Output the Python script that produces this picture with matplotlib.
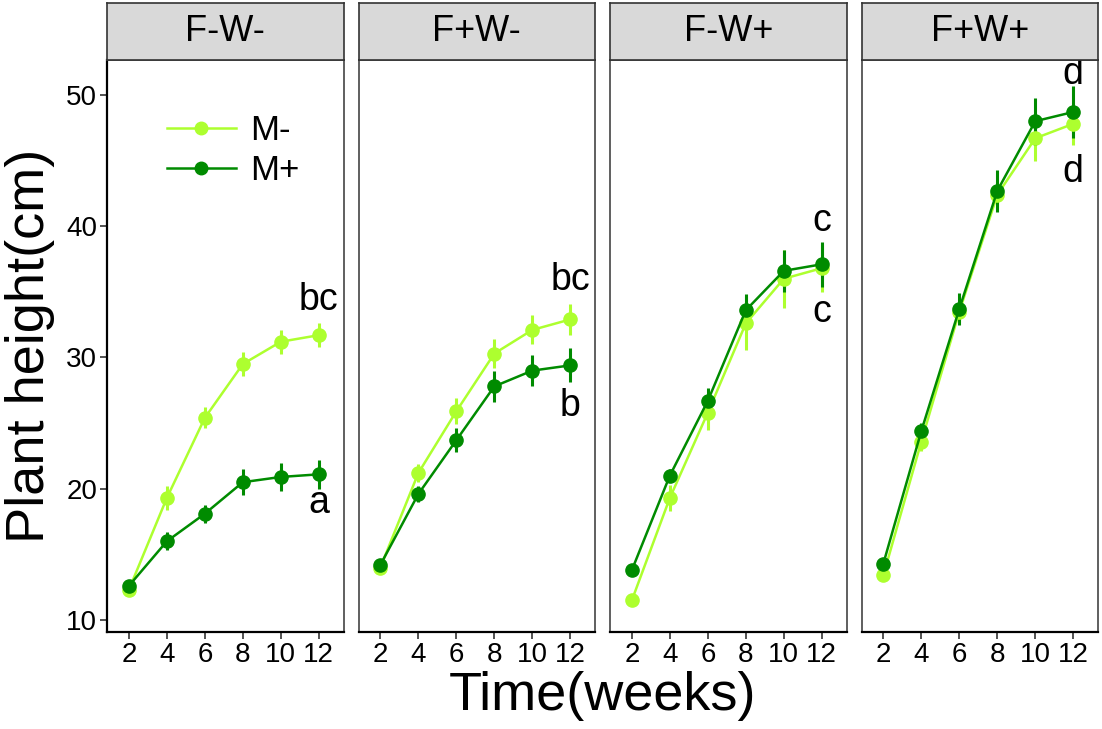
import numpy as np
import matplotlib.pyplot as plt
from matplotlib.lines import Line2D

plt.rcParams['font.family'] = ['Liberation Sans', 'DejaVu Sans']

# Data
weeks = [2, 4, 6, 8, 10, 12]
panels = ['F-W-', 'F+W-', 'F-W+', 'F+W+']

m_minus = {
    'F-W-': [12.3, 19.3, 25.4, 29.5, 31.2, 31.7],
    'F+W-': [14.0, 21.2, 25.9, 30.3, 32.1, 32.9],
    'F-W+': [11.5, 19.3, 25.8, 32.6, 36.0, 36.8],
    'F+W+': [13.4, 23.6, 33.5, 42.4, 46.7, 47.8],
}
m_minus_err = {
    'F-W-': [0.3, 0.9, 0.8, 0.9, 0.9, 0.9],
    'F+W-': [0.3, 0.7, 1.0, 1.1, 1.1, 1.2],
    'F-W+': [0.3, 1.0, 1.3, 2.0, 2.2, 1.8],
    'F+W+': [0.3, 0.7, 0.8, 1.0, 1.7, 1.6],
}
m_plus = {
    'F-W-': [12.6, 16.0, 18.1, 20.5, 20.9, 21.1],
    'F+W-': [14.2, 19.6, 23.7, 27.8, 29.0, 29.4],
    'F-W+': [13.8, 21.0, 26.7, 33.6, 36.6, 37.1],
    'F+W+': [14.3, 24.4, 33.7, 42.7, 48.0, 48.7],
}
m_plus_err = {
    'F-W-': [0.3, 0.7, 0.7, 1.0, 1.1, 1.1],
    'F+W-': [0.3, 0.6, 0.9, 1.2, 1.2, 1.3],
    'F-W+': [0.3, 0.5, 1.0, 1.2, 1.6, 1.7],
    'F+W+': [0.3, 0.6, 1.2, 1.6, 1.8, 2.0],
}
# significance letters at week 12: (label, y)
letters = {
    'F-W-': [('bc', 34.4), ('a', 18.9)],
    'F+W-': [('bc', 35.9), ('b', 26.3)],
    'F-W+': [('c', 40.4), ('c', 33.5)],
    'F+W+': [('d', 51.6), ('d', 44.1)],
}

LIGHT = '#ADFF2F'
DARK = '#008B00'

W, H = 1102, 729
fig = plt.figure(figsize=(W / 100, H / 100), dpi=100)

left, right = 107, 1098
gap = 15
pw = (right - left - 3 * gap) / 4
ptop, pbot = 60, 632
strip_top = 3

for i, name in enumerate(panels):
    x0 = left + i * (pw + gap)
    ax = fig.add_axes([x0 / W, 1 - pbot / H, pw / W, (pbot - ptop) / H])
    sax = fig.add_axes([x0 / W, 1 - ptop / H, pw / W, (ptop - strip_top) / H])

    for vals, errs, col in [(m_minus[name], m_minus_err[name], LIGHT),
                            (m_plus[name], m_plus_err[name], DARK)]:
        ax.errorbar(weeks, vals, yerr=errs, color=col, marker='o', markersize=9.5,
                    linewidth=1.8, elinewidth=2.2, capsize=0)

    for txt, y in letters[name]:
        ax.text(12, y, txt, ha='center', va='center', fontsize=27)

    ax.set_xlim(0.85, 13.3)
    ax.set_ylim(9.09, 52.66)
    ax.set_xticks(weeks)
    ax.set_xticklabels([str(w) for w in weeks], fontsize=20)
    ax.tick_params(axis='both', length=5, width=1.2, color='#333333', pad=2)
    ax.set_yticks([10, 20, 30, 40, 50])
    if i == 0:
        ax.set_yticklabels(['10', '20', '30', '40', '50'], fontsize=20)
        ax.set_ylabel('Plant height(cm)', fontsize=39, labelpad=8)
        handles = [Line2D([], [], color=LIGHT, marker='o', markersize=9, linewidth=1.8),
                   Line2D([], [], color=DARK, marker='o', markersize=9, linewidth=1.8)]
        ax.legend(handles, ['M-', 'M+'], loc='upper left',
                  bbox_to_anchor=(0.12, 0.96), frameon=False,
                  fontsize=25, handlelength=2.0, handletextpad=0.4,
                  labelspacing=0.2)
    else:
        ax.tick_params(axis='y', left=False, labelleft=False)
    for side in ['top', 'right', 'left']:
        ax.spines[side].set_color('#444444')
        ax.spines[side].set_linewidth(1.2)
    ax.spines['bottom'].set_color('black')
    ax.spines['bottom'].set_linewidth(1.6)
    if i == 0:
        ax.spines['left'].set_color('black')
        ax.spines['left'].set_linewidth(1.6)

    sax.set_facecolor('#D9D9D9')
    sax.set_xticks([])
    sax.set_yticks([])
    for side in sax.spines.values():
        side.set_color('#333333')
        side.set_linewidth(1.2)
    sax.text(0.5, 0.5, name, ha='center', va='center', fontsize=26,
             transform=sax.transAxes)

fig.text((left + right) / 2 / W, 1 - 696 / H, 'Time(weeks)', ha='center',
         va='center', fontsize=39)

fig.savefig('out.png', dpi=100)
